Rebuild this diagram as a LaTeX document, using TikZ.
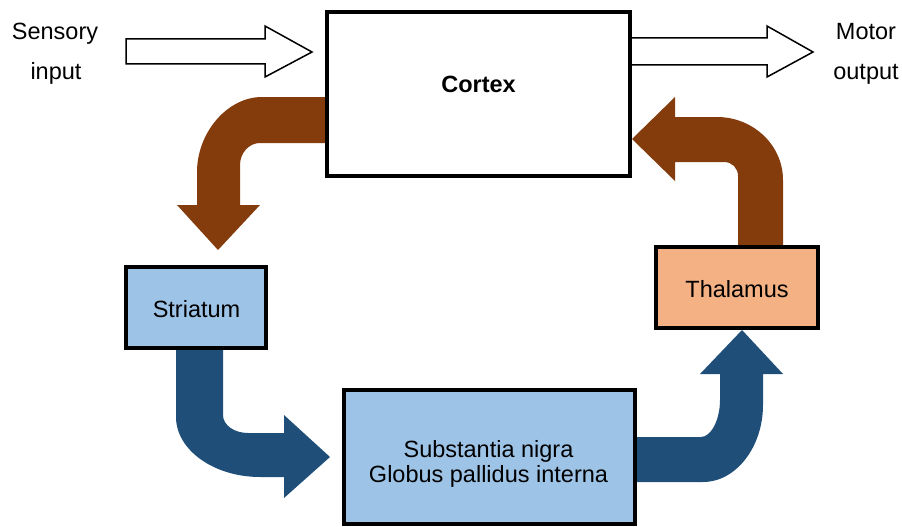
\documentclass[tikz,border=0pt]{standalone}
\usepackage{fontspec}
\setmainfont{Liberation Sans}
\definecolor{brn}{HTML}{843C0C}
\definecolor{dblue}{HTML}{1F4E79}
\definecolor{lblue}{HTML}{9DC3E6}
\definecolor{lorange}{HTML}{F4B183}
\begin{document}
\begin{tikzpicture}[x=1pt,y=-1pt,
  box/.style={draw=black, line width=3.5pt, inner sep=0pt},
  lbl/.style={font=\fontsize{23.5}{26}\selectfont, inner sep=0pt, anchor=base},
  brownarrow/.style={fill=brn, draw=none},
  bluearrow/.style={fill=dblue, draw=none},
  openarrow/.style={draw=black, fill=white, line width=1.5pt, line join=miter}]
\useasboundingbox (0,0) rectangle (902,527);

% open arrows
\path[openarrow] (126,39) -- (265,39) -- (265,26) -- (312,52) -- (265,77) -- (265,64) -- (126,64) -- cycle;
\fill[white] (630,38) -- (767,38) -- (767,26) -- (813,52) -- (767,77) -- (767,65) -- (630,65) -- cycle;
\draw[openarrow, fill=none] (630,38) -- (767,38) -- (767,26) -- (813,52) -- (767,77) -- (767,65) -- (630,65);

% brown arrow cortex -> striatum
\path[brownarrow] (332,97) -- (262,97)
  .. controls (227,97) and (197,133) .. (197,172)
  -- (197,205) -- (177,205) -- (218,250) -- (260,205) -- (240,205) -- (240,165)
  .. controls (240,153) and (249,143) .. (260,143)
  -- (332,143) -- cycle;

% brown arrow thalamus -> cortex
\path[brownarrow] (783,250) -- (783,180)
  .. controls (783,145) and (753,117) .. (717,117)
  -- (675,117) -- (675,97) -- (632,139) -- (675,181) -- (675,162) -- (724,162)
  .. controls (732,162) and (738,168) .. (738,176)
  -- (738,250) -- cycle;

% blue arrow striatum -> substantia
\path[bluearrow] (223,345) -- (223,415)
  .. controls (223,425) and (234,433) .. (248,433)
  -- (284,433) -- (284,415) -- (330,457) -- (284,498) -- (284,477) -- (260,477)
  .. controls (214,477) and (176,450) .. (176,417)
  -- (176,345) -- cycle;

% blue arrow substantia -> thalamus
\path[bluearrow] (632,437) -- (701,437)
  .. controls (711,437) and (720,420) .. (720,400)
  -- (720,374) -- (700,374) -- (742,330) -- (783,374) -- (763,374) -- (763,405)
  .. controls (763,447) and (736,482) .. (703,482)
  -- (632,482) -- cycle;

% boxes
\node[box, fill=white, minimum width=303pt, minimum height=164pt] (cortex) at (478.5,94) {};
\node[box, fill=lblue, minimum width=140pt, minimum height=81pt] (striatum) at (196,307.5) {};
\node[box, fill=lorange, minimum width=162pt, minimum height=81pt] (thalamus) at (737,287.5) {};
\node[box, fill=lblue, minimum width=291pt, minimum height=134pt] (subst) at (489.5,457) {};

% box labels
\node[lbl, font=\fontsize{23.5}{26}\selectfont\bfseries] (cortexlabel) at (478.5,92.5) {Cortex};
\node[lbl] (striatumlabel) at (196.5,317) {Striatum};
\node[lbl] (thalamuslabel) at (737,297) {Thalamus};
\node[lbl] (subst1) at (488.5,457) {Substantia nigra};
\node[lbl] (subst2) at (488.5,482) {Globus pallidus interna};

% side labels
\node[lbl] (sens1) at (55,40) {Sensory};
\node[lbl] (sens2) at (56,80) {input};
\node[lbl] (mot1) at (866,40) {Motor};
\node[lbl] (mot2) at (866,80) {output};
\end{tikzpicture}
\end{document}
